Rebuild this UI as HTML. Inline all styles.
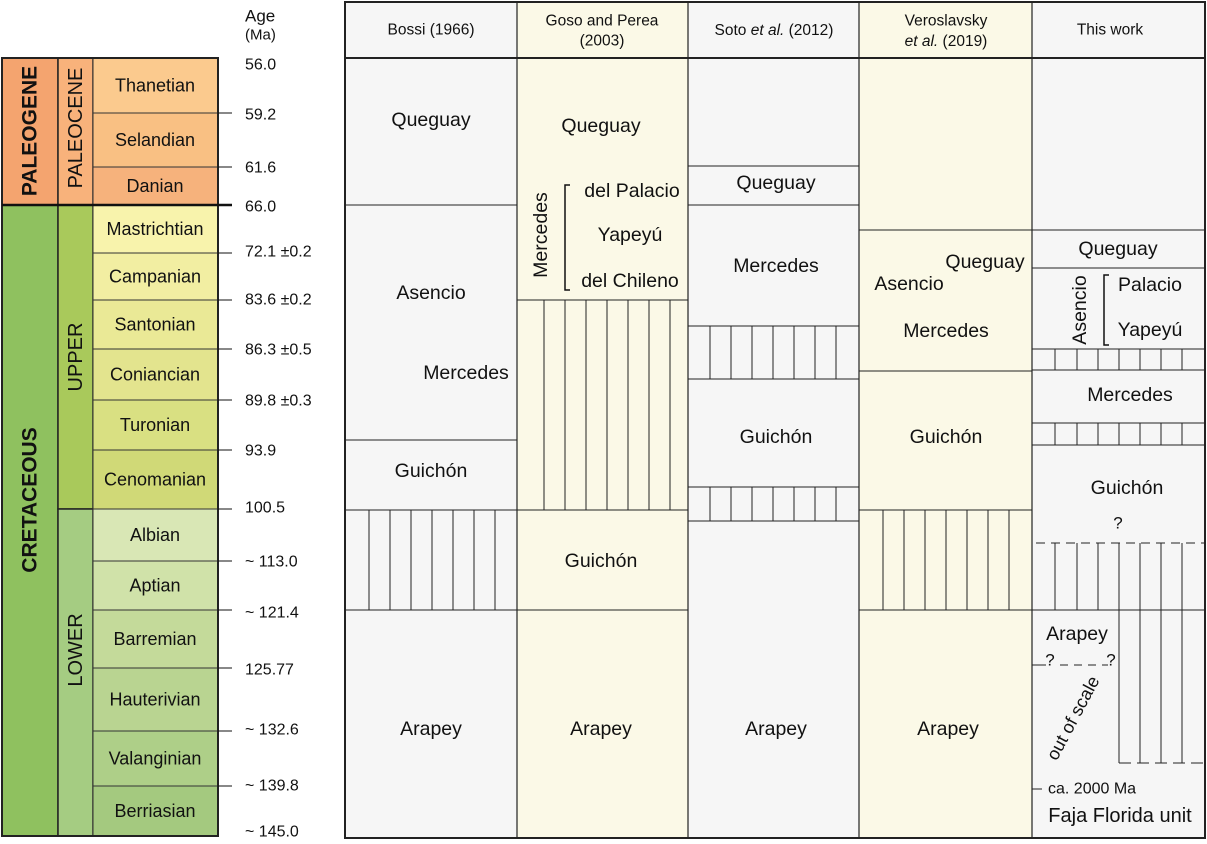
<!DOCTYPE html>
<html><head><meta charset="utf-8"><style>
body{margin:0;background:#fff;}
svg{display:block;font-family:"Liberation Sans",sans-serif;}
</style></head><body>
<svg id="c" width="1207" height="844"></svg>
<script>
const stageNames=["Thanetian","Selandian","Danian","Mastrichtian","Campanian","Santonian","Coniancian","Turonian","Cenomanian","Albian","Aptian","Barremian","Hauterivian","Valanginian","Berriasian"];
const stageBounds=[58,113,167,205,253,300,349,400,450,509,561,610,668,731,786,836];
const stageColors=["#fbca8e","#f9c083","#f6b27c","#f8f3ac","#f2eea2","#eae996","#e3e48e","#d9e082","#d0d977","#d9e7b5","#d0e2a9","#c4da9a","#b9d491","#aecf88","#a4c97f"];
const ageLabels=["56.0","59.2","61.6","66.0","72.1 ±0.2","83.6 ±0.2","86.3 ±0.5","89.8 ±0.3","93.9","100.5","~ 113.0","~ 121.4","125.77","~ 132.6","~ 139.8","~ 145.0"];
const S="http://www.w3.org/2000/svg";
const svg=document.getElementById('c');
const U=19.5;
function el(t,a,p){const e=document.createElementNS(S,t);for(const k in a)e.setAttribute(k,a[k]);(p||svg).appendChild(e);return e;}
function txt(x,y,s,size,extra){const e=el('text',Object.assign({x:x,y:y,'font-size':size||U,'text-anchor':'middle','dominant-baseline':'central',fill:'#111'},extra||{}));e.textContent=s;return e;}
function rich(x,y,parts,size){const e=el('text',{x:x,y:y,'font-size':size,'text-anchor':'middle','dominant-baseline':'central',fill:'#111'});parts.forEach(p=>{const t=el('tspan',p[1]?{'font-style':'italic'}:{},e);t.textContent=p[0];});return e;}
// left column
const r1=el('rect',{x:2,y:58,width:56,height:147,fill:'#f4a46f',stroke:'#222','stroke-width':1.5});

const r2=el('rect',{x:2,y:205,width:56,height:631,fill:'#8fc15f',stroke:'#222','stroke-width':1.5});

const epochs=[[58,205,'#f8b27b','PALEOCENE'],[205,509,'#a9c95b','UPPER'],[509,836,'#a5cc82','LOWER']];
epochs.forEach(e=>{const r=el('rect',{x:58,y:e[0],width:35,height:e[1]-e[0],fill:e[2],stroke:'#222','stroke-width':1.5});
});
for(let i=0;i<stageNames.length;i++){
 const y0=stageBounds[i],y1=stageBounds[i+1];
 const r=el('rect',{x:93,y:y0,width:125,height:y1-y0,fill:stageColors[i],stroke:'#333','stroke-width':1});
 
 txt(155,(y0+y1)/2,stageNames[i],18);
}
el('rect',{x:2,y:58,width:216,height:778,fill:'none',stroke:'#222','stroke-width':2});
el('line',{x1:2,y1:205,x2:232,y2:205,stroke:'#111','stroke-width':2.5});
for(let i=0;i<stageBounds.length;i++){
 const y=stageBounds[i];
 if(i>0&&i<stageBounds.length-1) el('line',{x1:218,y1:y,x2:232,y2:y,stroke:'#111','stroke-width':1});
 const ty=[65,115,168,207,252,300,350,401,451,508,562,613,670,730,786,832][i];
 txt(245,ty,ageLabels[i],16,{'text-anchor':'start'});
}
txt(245,16,'Age',17,{'text-anchor':'start'});txt(245,35,'(Ma)',15,{'text-anchor':'start'});
txt(30,131,'PALEOGENE',21,{'font-weight':'bold',transform:'rotate(-90 30 131)'});
txt(76,128,'PALEOCENE',20,{transform:'rotate(-90 76 128)'});
txt(30,500,'CRETACEOUS',21,{'font-weight':'bold',transform:'rotate(-90 30 500)'});
txt(76,357,'UPPER',20,{transform:'rotate(-90 76 357)'});
txt(76,650,'LOWER',20,{transform:'rotate(-90 76 650)'});
// right table
const cols=[345,517,688,859,1032,1205];
const colBg=['#f6f6f6','#fbf9e7','#f6f6f6','#fbf9e7','#f6f6f6'];
for(let i=0;i<5;i++){
 const r=el('rect',{x:cols[i],y:2,width:cols[i+1]-cols[i],height:836,fill:colBg[i]});
 
}
txt(431,30,'Bossi (1966)',15.5);
txt(602,21,'Goso and Perea',15.5);txt(602,41,'(2003)',15.5);
rich(774,30,[['Soto '],['et al.',1],[' (2012)']],15.5);
txt(946,21,'Veroslavsky',15.5);rich(946,41,[['et al.',1],[' (2019)']],15.5);
txt(1110,30,'This work',15.5);
function hl(x1,x2,y,w,d){el('line',{x1:x1,y1:y,x2:x2,y2:y,stroke:'#222','stroke-width':w||1,'stroke-dasharray':d||'none'});}
function hatch(x1,x2,y1,y2,xs){hl(x1,x2,y1);hl(x1,x2,y2);xs.forEach(x=>el('line',{x1:x,y1:y1,x2:x,y2:y2,stroke:'#222','stroke-width':1}));}
hl(345,1205,58,2);
// col1
[205,440].forEach(y=>hl(345,517,y));
hatch(345,517,510,610,[369,390,411,432,453,474,495]);
txt(431,120,'Queguay');txt(431,293,'Asencio');txt(466,373,'Mercedes');txt(431,471,'Guichón');txt(431,729,'Arapey');
// col2
hatch(517,688,300,510,[544,565,586,607,628,649,670]);hl(517,688,610);
txt(601,126,'Queguay');txt(541,235,'Mercedes',U,{transform:'rotate(-90 541 235)'});
el('path',{d:'M570 185 H565 V290 H570',fill:'none',stroke:'#111','stroke-width':1.5});
txt(632,191,'del Palacio');txt(630,235,'Yapeyú');txt(630,281,'del Chileno');
txt(601,561,'Guichón');txt(601,729,'Arapey');
// col3
hl(688,859,166);hl(688,859,205);
hatch(688,859,326,379,[710,731,752,773,794,815,836]);
hatch(688,859,487,521,[710,731,752,773,794,815,836]);
txt(776,183,'Queguay');txt(776,266,'Mercedes');txt(776,437,'Guichón');txt(776,729,'Arapey');
// col4
hl(859,1032,230);hl(859,1032,371);
hatch(859,1032,510,610,[883,904,925,946,967,988,1009]);
txt(985,262,'Queguay');txt(909,284,'Asencio');txt(946,331,'Mercedes');txt(946,437,'Guichón');txt(948,729,'Arapey');
// col5
hl(1032,1205,230);hl(1032,1205,268);
hatch(1032,1205,349,370,[1055,1077,1098,1119,1140,1161,1182]);
hatch(1032,1205,423,445,[1055,1077,1098,1119,1140,1161,1182]);
hl(1036,1205,543,1,'9,6');
[1055,1077,1098].forEach(x=>el('line',{x1:x,y1:543,x2:x,y2:610,stroke:'#222'}));
[1119,1140,1161,1182].forEach(x=>el('line',{x1:x,y1:543,x2:x,y2:763,stroke:'#222'}));
hl(1032,1205,610);
hl(1119,1205,763,1,'12,6');
hl(1032,1046,665);hl(1060,1108,665,1,'8,6');
hl(1032,1042,789);
txt(1118,249,'Queguay');txt(1080,310,'Asencio',U,{transform:'rotate(-90 1080 310)'});
el('path',{d:'M1109 275 H1104 V345 H1109',fill:'none',stroke:'#111','stroke-width':1.5});
txt(1150,285,'Palacio');txt(1150,330,'Yapeyú');txt(1130,395,'Mercedes');txt(1127,488,'Guichón');
txt(1118,523,'?',17);txt(1077,634,'Arapey');
txt(1050,660,'?',17);txt(1111,660,'?',17);
txt(1073,718,'out of scale',18,{transform:'rotate(-62 1073 718)'});
txt(1048,789,'ca. 2000 Ma',16,{'text-anchor':'start'});
txt(1120,816,'Faja Florida unit',20);
// column borders
cols.forEach(x=>el('line',{x1:x,y1:2,x2:x,y2:838,stroke:'#222','stroke-width':x==345||x==1205?2:1.2}));
el('rect',{x:345,y:2,width:860,height:836,fill:'none',stroke:'#222','stroke-width':2});
</script>
</body></html>
